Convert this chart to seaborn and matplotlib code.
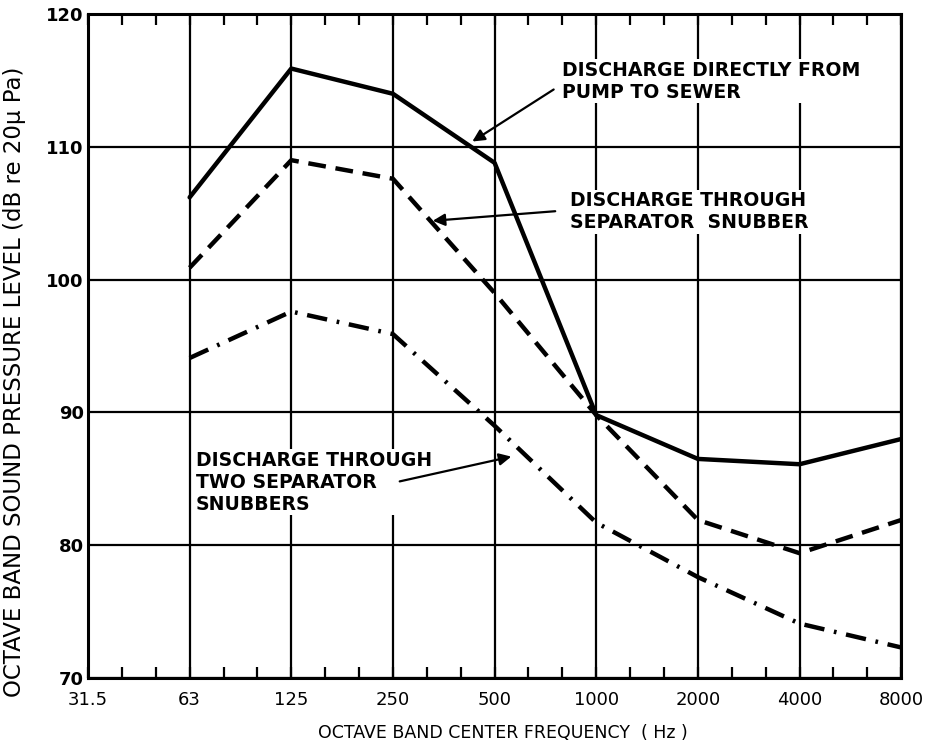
import seaborn as sns
import matplotlib.pyplot as plt
import pandas as pd
import numpy as np
from matplotlib.ticker import MultipleLocator

# octave band centre frequencies (axis labels) and the bands that were measured
freq_labels = ["31.5", "63", "125", "250", "500", "1000", "2000", "4000", "8000"]
bands = ["63", "125", "250", "500", "1000", "2000", "4000", "8000"]

# sound pressure level, dB re 20 uPa
direct = [106.2, 115.9, 114.0, 108.8, 89.8, 86.5, 86.1, 88.0]
one_snubber = [100.9, 109.0, 107.6, 99.0, 89.8, 81.9, 79.4, 81.9]
two_snubbers = [94.1, 97.6, 95.9, 89.0, 81.7, 77.6, 74.1, 72.3]

series = {
    "direct": direct,
    "one": one_snubber,
    "two": two_snubbers,
}

rows = []
for name, vals in series.items():
    for b, v in zip(bands, vals):
        rows.append({"pos": freq_labels.index(b), "spl": v, "series": name})
df = pd.DataFrame(rows)

sns.set_style("white", {"text.color": "black", "axes.labelcolor": "black",
                        "xtick.color": "black", "ytick.color": "black"})
plt.rcParams["font.family"] = ["DejaVu Sans"]

fig = plt.figure(figsize=(9.31, 7.51), dpi=100)
ax = fig.add_axes([0.0945, 0.0972, 0.8735, 0.884])

sns.lineplot(
    data=df, x="pos", y="spl", style="series",
    dashes={"direct": "", "one": (4, 2.2), "two": (4.6, 2.2, 0.6, 2.2)},
    color="black", linewidth=3.2, legend=False, ax=ax,
)

ax.set_xlim(0, len(freq_labels) - 1)
ax.set_ylim(70, 120)
ax.set_xticks(range(len(freq_labels)))
ax.set_xticklabels(freq_labels)
ax.set_yticks([70, 80, 90, 100, 110, 120])
ax.xaxis.set_minor_locator(MultipleLocator(1 / 3))

ax.grid(True, which="major", color="black", linewidth=1.6)
for s in ax.spines.values():
    s.set_color("black")
    s.set_linewidth(2.2)

ax.tick_params(axis="x", which="both", direction="in", top=True, bottom=True,
               length=8, width=1.6, color="black", labelsize=13, pad=9)
ax.tick_params(axis="y", which="major", length=0, labelsize=13, pad=3)
for lab in ax.get_yticklabels():
    lab.set_fontweight("bold")

ax.set_xlabel("OCTAVE BAND CENTER FREQUENCY  ( Hz )", fontsize=12.5)
ax.xaxis.set_label_coords(0.51, -0.069)
ax.set_ylabel("OCTAVE BAND SOUND PRESSURE LEVEL (dB re 20\u03bc Pa)", fontsize=16.5)
ax.yaxis.set_label_coords(-0.076, 0.446)

note_style = dict(fontsize=13.6, fontweight="bold", color="black",
                  ha="left", va="center", linespacing=1.2,
                  bbox=dict(facecolor="white", edgecolor="none", pad=1))
arrow = dict(arrowstyle="-|>", color="black", lw=1.6, mutation_scale=18)


def fig_xy(px, py):
    # pixel position in the 931x751 picture -> figure fraction
    return (px / 931, 1 - py / 751)


ax.annotate("DISCHARGE DIRECTLY FROM\nPUMP TO SEWER", xy=fig_xy(562, 81),
            xycoords="figure fraction", **note_style)
ax.annotate("", xy=fig_xy(470, 143), xycoords="figure fraction",
            xytext=fig_xy(556, 88), textcoords="figure fraction", arrowprops=arrow)

ax.annotate("DISCHARGE THROUGH\nSEPARATOR  SNUBBER", xy=fig_xy(570, 212),
            xycoords="figure fraction", **note_style)
ax.annotate("", xy=fig_xy(430, 221), xycoords="figure fraction",
            xytext=fig_xy(558, 211), textcoords="figure fraction", arrowprops=arrow)

ax.annotate("DISCHARGE THROUGH\nTWO SEPARATOR\nSNUBBERS", xy=fig_xy(196, 482),
            xycoords="figure fraction", **note_style)
ax.annotate("", xy=fig_xy(514, 456), xycoords="figure fraction",
            xytext=fig_xy(397, 482), textcoords="figure fraction", arrowprops=arrow)

fig.savefig("out.png", dpi=100)
